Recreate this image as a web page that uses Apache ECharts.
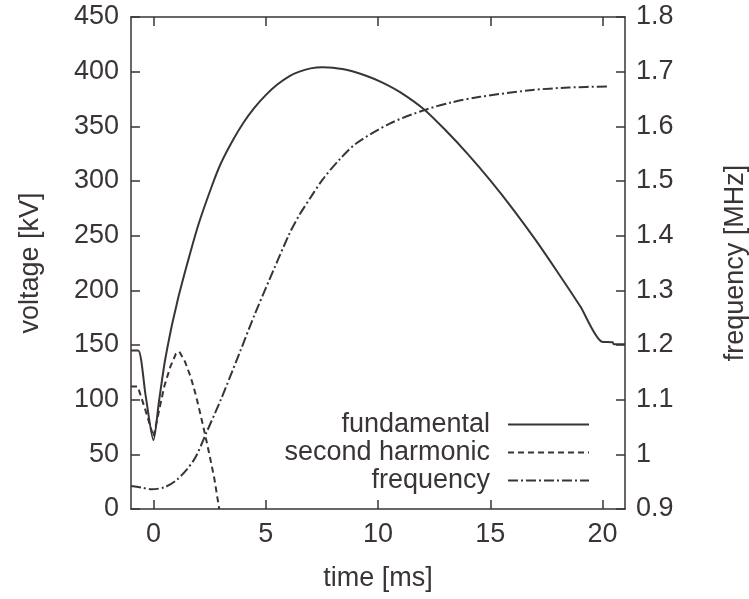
<!DOCTYPE html>
<html>
<head>
<meta charset="utf-8">
<script src="https://cdn.jsdelivr.net/npm/echarts@6/dist/echarts.min.js"></script>
<style>
html,body{margin:0;padding:0;background:#ffffff;}
#chart{width:749px;height:599px;}
</style>
</head>
<body>
<div id="chart"></div>
<script>
// ---- data ----
const xTickValues = [0, 5, 10, 15, 20];

const timeFundamental = [-1, -0.68, -0.35, 0, 0.25, 0.5, 0.8, 1.0, 1.15, 1.5, 2.0, 2.63, 3.0, 3.53, 4.0, 4.5, 5.0, 5.5, 6.06, 6.5, 7.0, 7.54, 8.0, 8.73, 9.5, 10.2, 11.0, 12.08, 13.0, 14.0, 15.0, 16.0, 17.0, 18.0, 19.0, 19.97, 20.45, 20.5, 21];
const fundamental = [145, 145, 104, 63, 99, 134, 166, 184, 197, 224, 260, 297, 316, 337, 353, 367, 378.5, 388, 396, 400, 403, 404, 403.5, 401, 396, 390, 381, 365, 346.6, 324.6, 300.6, 274.6, 246.6, 216.6, 185.6, 153, 152.5, 150.7, 150.7];

const timeHarmonic = [-1, -0.7, -0.35, 0, 0.25, 0.48, 0.75, 1.0, 1.15, 1.4, 1.67, 1.89, 2.1, 2.3, 2.5, 2.71, 2.93];
const secondHarmonic = [112, 112, 90, 66, 90, 112, 130, 142, 144, 135, 120, 104, 86, 68, 49, 28, 0];

const timeFrequency = [-1, -0.5, -0.1, 0.5, 1.0, 1.5, 1.89, 2.34, 3.0, 3.83, 4.5, 5.16, 6.06, 6.5, 7.0, 7.54, 8.3, 9.04, 10.52, 12.08, 13.3, 14.54, 16.77, 18.5, 20.3];
const frequency = [0.942, 0.939, 0.936, 0.94, 0.952, 0.973, 0.996, 1.038, 1.10, 1.185, 1.255, 1.319, 1.404, 1.438, 1.47, 1.503, 1.54, 1.569, 1.605, 1.63, 1.644, 1.654, 1.666, 1.671, 1.673];

const seriesNames = ['fundamental', 'second harmonic', 'frequency'];

// ---- build chart ----
function zip(xs, ys) { return xs.map((x, i) => [x, ys[i]]); }

const ink = '#3b3434';
const font = 'Liberation Sans, Arial, Helvetica, sans-serif';
const fs = 27;
const axisLine = { show: true, onZero: false, lineStyle: { color: ink, width: 1.5 } };
const tickStyle = { color: ink, width: 1.5 };

const chart = echarts.init(document.getElementById('chart'), null, { renderer: 'canvas' });

function legendFor(name, top) {
  return {
    show: true,
    data: [name],
    orient: 'vertical',
    align: 'right',
    right: 159,
    top: top,
    itemWidth: 81,
    itemHeight: 14,
    selectedMode: false,
    itemStyle: { opacity: 0 },
    textStyle: { fontFamily: font, fontSize: fs, color: ink, padding: [0, 13, 0, 0] },
    padding: 0
  };
}

chart.setOption({
  backgroundColor: '#ffffff',
  animation: false,
  grid: { left: 131, right: 124, top: 17, bottom: 90, containLabel: false, outerBoundsMode: 'none' },
  legend: [
    legendFor(seriesNames[0], 411),
    legendFor(seriesNames[1], 439),
    legendFor(seriesNames[2], 467)
  ],
  xAxis: [
    {
      type: 'value', min: -1, max: 21, position: 'bottom',
      name: 'time [ms]', nameLocation: 'middle', nameGap: 56,
      nameTextStyle: { fontFamily: font, fontSize: fs, color: ink },
      axisLine: axisLine,
      axisTick: { show: true, inside: true, length: 9, customValues: xTickValues, lineStyle: tickStyle },
      axisLabel: { show: true, customValues: xTickValues, fontFamily: font, fontSize: fs, color: ink, margin: 12 },
      splitLine: { show: false }
    },
    {
      type: 'value', min: -1, max: 21, position: 'top',
      axisLine: axisLine,
      axisTick: { show: true, inside: true, length: 9, customValues: xTickValues, lineStyle: tickStyle },
      axisLabel: { show: false },
      splitLine: { show: false }
    }
  ],
  yAxis: [
    {
      type: 'value', min: 0, max: 450, interval: 50, position: 'left',
      name: 'voltage [kV]', nameLocation: 'middle', nameRotate: 90, nameGap: 87,
      nameTextStyle: { fontFamily: font, fontSize: fs, color: ink },
      axisLine: axisLine,
      axisTick: { show: true, inside: true, length: 9, lineStyle: tickStyle },
      axisLabel: { fontFamily: font, fontSize: fs, color: ink, margin: 12 },
      splitLine: { show: false }
    },
    {
      type: 'value', min: 0.9, max: 1.8, interval: 0.1, position: 'right',
      name: 'frequency [MHz]', nameLocation: 'middle', nameRotate: 90, nameGap: 97,
      nameTextStyle: { fontFamily: font, fontSize: fs, color: ink },
      axisLine: axisLine,
      axisTick: { show: true, inside: true, length: 9, lineStyle: tickStyle },
      axisLabel: { fontFamily: font, fontSize: fs, color: ink, margin: 11,
        formatter: v => String(Math.round(v * 10) / 10) },
      splitLine: { show: false }
    }
  ],
  series: [
    {
      name: seriesNames[0], type: 'line', xAxisIndex: 0, yAxisIndex: 0,
      data: zip(timeFundamental, fundamental), symbol: 'none', smooth: 0.25,
      lineStyle: { color: ink, width: 2, type: 'solid' }, itemStyle: { color: ink }
    },
    {
      name: seriesNames[1], type: 'line', xAxisIndex: 0, yAxisIndex: 0,
      data: zip(timeHarmonic, secondHarmonic), symbol: 'none', smooth: false,
      lineStyle: { color: ink, width: 2, type: [6, 4] }, itemStyle: { color: ink }
    },
    {
      name: seriesNames[2], type: 'line', xAxisIndex: 0, yAxisIndex: 1,
      data: zip(timeFrequency, frequency), symbol: 'none', smooth: 0.3,
      lineStyle: { color: ink, width: 2, type: [10, 3, 2, 3] }, itemStyle: { color: ink }
    }
  ]
});
</script>
</body>
</html>
